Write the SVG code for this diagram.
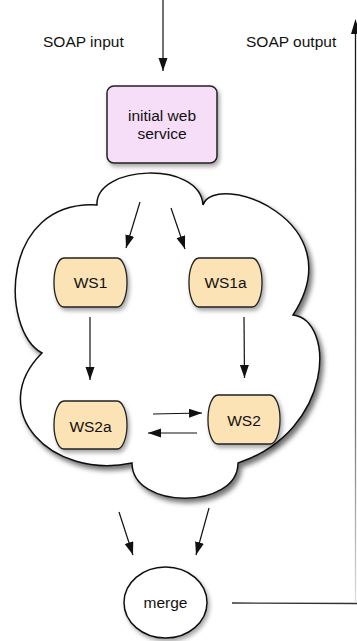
<svg xmlns="http://www.w3.org/2000/svg" width="357" height="641" viewBox="0 0 357 641">
  <style>
    text { font-family: "Liberation Sans", Arial, Helvetica, sans-serif; font-size: 15.5px; fill: #111; text-anchor: middle; }
    .label { text-anchor: start; }
    .ws { fill: #FBE3B5; stroke: #222; stroke-width: 1.3; filter: url(#shadow-soft); }
    .edge { stroke: #111; stroke-width: 1.2; fill: none; marker-end: url(#arrow); }
  </style>
  <defs>
    <marker id="arrow" markerUnits="userSpaceOnUse" markerWidth="14" markerHeight="10" refX="13" refY="4.5" orient="auto">
      <path d="M0,0 L13,4.5 L0,9 z" fill="#111"/>
    </marker>
    <filter id="shadow" x="-20%" y="-20%" width="150%" height="150%">
      <feDropShadow dx="3" dy="4" stdDeviation="2.5" flood-color="#000" flood-opacity="0.55"/>
    </filter>
    <filter id="shadow-soft" x="-20%" y="-20%" width="150%" height="150%">
      <feDropShadow dx="2" dy="3" stdDeviation="2" flood-color="#000" flood-opacity="0.35"/>
    </filter>
    <linearGradient id="outFade" gradientUnits="userSpaceOnUse" x1="0" y1="20" x2="0" y2="603">
      <stop offset="0" stop-color="#111"/>
      <stop offset="0.7" stop-color="#777"/>
      <stop offset="1" stop-color="#ddd"/>
    </linearGradient>
  </defs>

  <!-- labels -->
  <text class="label" x="43" y="47">SOAP input</text>
  <text class="label" x="246" y="47">SOAP output</text>

  <!-- cloud container -->
  <g id="cloud">
    <path d="M97,205 C95,165 200,160 203,205 C215,170 355,220 293,315 C335,320 335,430 238,463 C238,510 132,510 132,463 C50,480 -15,410 42,353 C0,330 0,200 97,205 Z"
          fill="#fff" stroke="#111" stroke-width="1.5" filter="url(#shadow)"/>
  </g>

  <g id="initial">
    <rect x="107" y="86" width="110" height="77" rx="7" fill="#F6DDF8" stroke="#222" stroke-width="1.5" filter="url(#shadow-soft)"/>
    <text x="162" y="121">initial web</text>
    <text x="162" y="139">service</text>
  </g>

  <g id="ws1">
    <rect class="ws" x="54" y="258" width="73" height="49" rx="10" ry="24"/>
    <text x="90.5" y="288">WS1</text>
  </g>
  <g id="ws1a">
    <rect class="ws" x="189" y="258" width="73" height="49" rx="10" ry="24"/>
    <text x="225.5" y="288">WS1a</text>
  </g>
  <g id="ws2a">
    <rect class="ws" x="54" y="401" width="73" height="48" rx="10" ry="24"/>
    <text x="90.5" y="432">WS2a</text>
  </g>
  <g id="ws2">
    <rect class="ws" x="208" y="395" width="72" height="49" rx="10" ry="24"/>
    <text x="244" y="426">WS2</text>
  </g>

  <g id="merge">
    <ellipse cx="165.5" cy="602.5" rx="41.5" ry="35.5" fill="#fff" stroke="#111" stroke-width="1.5" filter="url(#shadow-soft)"/>
    <text x="165.5" y="608">merge</text>
  </g>

  <g id="connectors">
    <line class="edge" x1="163" y1="0" x2="163" y2="71"/>
    <line class="edge" x1="140" y1="202" x2="126" y2="248"/>
    <line class="edge" x1="171" y1="208" x2="185" y2="249"/>
    <line class="edge" x1="90" y1="317" x2="90" y2="380"/>
    <line class="edge" x1="244" y1="317" x2="244.5" y2="378"/>
    <line class="edge" x1="153" y1="414" x2="202" y2="413"/>
    <line class="edge" x1="197" y1="433" x2="148" y2="433"/>
    <line class="edge" x1="119" y1="512" x2="133" y2="555"/>
    <line class="edge" x1="209" y1="508" x2="196" y2="555"/>
    <line x1="232" y1="603" x2="357" y2="603.5" stroke="#333" stroke-width="1.4"/>
    <line x1="355.5" y1="603" x2="355.5" y2="22" stroke="url(#outFade)" stroke-width="1.3"/>
    <path d="M351,34 L355.5,19 L360,34 z" fill="#111"/>
  </g>
</svg>
